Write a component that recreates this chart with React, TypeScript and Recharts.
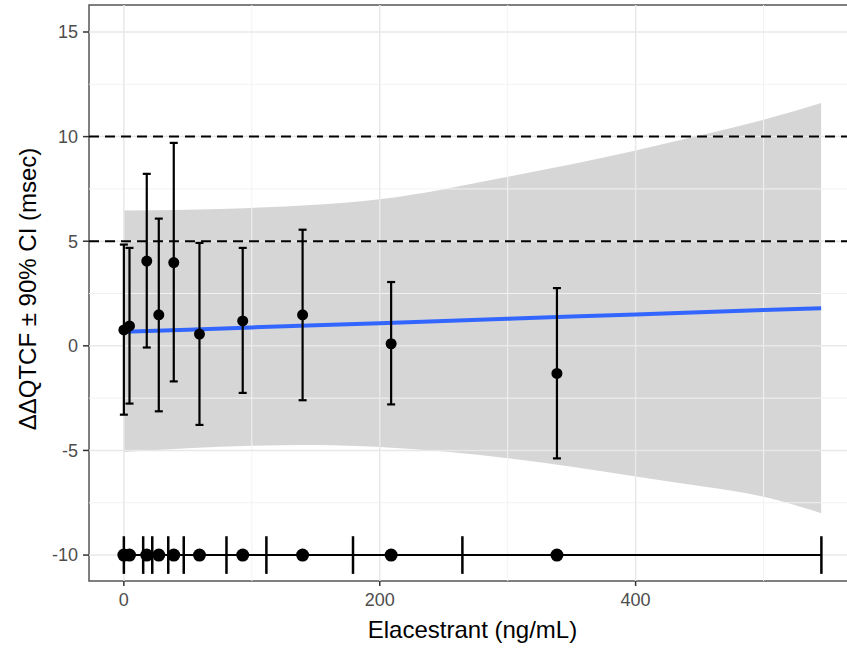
import React from 'react';
import {
  ComposedChart, Area, Line, Scatter, ErrorBar, XAxis, YAxis, ReferenceLine, ReferenceArea, Label,
} from 'recharts';

// concentration bins (ng/mL) and mean ddQTcF per bin
const concX = [0, 4.4, 17.9, 27.3, 39, 59.1, 92.9, 139.7, 208.9, 338.5];
const ddqtcf = [0.76, 0.95, 4.05, 1.48, 3.98, 0.56, 1.19, 1.48, 0.1, -1.32];
const ciLow = [-3.29, -2.76, -0.08, -3.13, -1.7, -3.78, -2.25, -2.6, -2.8, -5.38];
const ciHigh = [4.84, 4.68, 8.22, 6.08, 9.7, 4.92, 4.68, 5.55, 3.05, 2.76];

// bin edges shown on the rug row at y = -10
const binEdges = [0, 15.1, 22.2, 34.7, 46.8, 80.2, 111.4, 179.1, 264.6, 545.2];
const rugY = -10;

// linear fit and its 90% band
const fitX = [0, 50, 100, 150, 200, 250, 300, 350, 400, 450, 500, 545];
const fitY = [0.67, 0.77, 0.88, 0.98, 1.08, 1.19, 1.29, 1.4, 1.5, 1.6, 1.71, 1.8];
const bandLow = [-5.07, -4.9, -4.78, -4.74, -4.84, -5.05, -5.37, -5.78, -6.25, -6.7, -7.21, -8.0];
const bandHigh = [6.47, 6.5, 6.59, 6.74, 7.0, 7.48, 8.08, 8.68, 9.34, 10.05, 10.81, 11.61];

const thresholds = [5, 10];
const xTicks = [0, 200, 400];
const xMinor = [100, 300, 500];
const yTicks = [-10, -5, 0, 5, 10, 15];
const yMinor = [-7.5, -2.5, 2.5, 7.5, 12.5];

const X_DOMAIN = [-27.25, 572.25];
const Y_DOMAIN = [-11.24, 16.29];
const FONT = '"Liberation Sans", Arial, sans-serif';

const pointData = concX.map((x, i) => ({
  x,
  y: ddqtcf[i],
  err: [ddqtcf[i] - ciLow[i], ciHigh[i] - ddqtcf[i]],
}));
const rugData = concX.map((x) => ({ x, y: rugY }));
const bandData = fitX.map((x, i) => ({ x, band: [bandLow[i], bandHigh[i]], fit: fitY[i] }));

const Dot = (r: number) => (props: any) => (
  <circle cx={props.cx} cy={props.cy} r={r} fill="#000" />
);

const App: React.FC = () => {
  return (
    <div style={{ position: 'absolute', left: 0, top: 0, width: 847, height: 650, overflow: 'hidden', background: '#fff' }}>
      <ComposedChart width={870} height={650} margin={{ top: 5, right: 14, left: 0, bottom: 0 }}>
        <XAxis
          type="number"
          dataKey="x"
          domain={X_DOMAIN}
          ticks={xTicks}
          allowDataOverflow
          axisLine={false}
          tickSize={5}
          tickMargin={7}
          height={69}
          tickLine={{ stroke: '#333', strokeWidth: 1.5 }}
          tick={{ fill: '#4d4d4d', fontSize: 18, fontFamily: FONT }}
        >
          <Label
            content={({ viewBox }: any) => (
              <text
                x={viewBox.x + viewBox.width / 2}
                y={638}
                textAnchor="middle"
                fontSize={24}
                fontFamily={FONT}
                fill="#000"
              >
                Elacestrant (ng/mL)
              </text>
            )}
          />
        </XAxis>
        <YAxis
          type="number"
          dataKey="y"
          domain={Y_DOMAIN}
          ticks={yTicks}
          allowDataOverflow
          axisLine={false}
          width={89}
          tickSize={6}
          tickMargin={5}
          tickLine={{ stroke: '#333', strokeWidth: 1.5 }}
          tick={{ fill: '#4d4d4d', fontSize: 18, fontFamily: FONT }}
        >
          <Label
            content={({ viewBox }: any) => {
              const cy = viewBox.y + viewBox.height / 2 - 4;
              return (
                <text
                  x={28}
                  y={cy}
                  dy="0.35em"
                  textAnchor="middle"
                  transform={`rotate(-90, 28, ${cy})`}
                  fontSize={24}
                  fontFamily={FONT}
                  fill="#000"
                >
                  ΔΔQTCF ± 90% CI (msec)
                </text>
              );
            }}
          />
        </YAxis>

        {xMinor.map((v) => (
          <ReferenceLine key={`xm${v}`} x={v} stroke="#f2f2f2" strokeWidth={1} />
        ))}
        {yMinor.map((v) => (
          <ReferenceLine key={`ym${v}`} y={v} stroke="#f2f2f2" strokeWidth={1} />
        ))}
        {xTicks.map((v) => (
          <ReferenceLine key={`xg${v}`} x={v} stroke="#e8e8e8" strokeWidth={1.5} />
        ))}
        {yTicks.map((v) => (
          <ReferenceLine key={`yg${v}`} y={v} stroke="#e8e8e8" strokeWidth={1.5} />
        ))}

        <Area
          data={bandData}
          dataKey="band"
          type="natural"
          fill="#999999"
          fillOpacity={0.4}
          stroke="none"
          isAnimationActive={false}
          activeDot={false}
        />

        {thresholds.map((v) => (
          <ReferenceLine key={`th${v}`} y={v} stroke="#000" strokeWidth={2} strokeDasharray="10 6" />
        ))}

        <Line
          data={bandData}
          dataKey="fit"
          type="linear"
          stroke="#3366ff"
          strokeWidth={4}
          dot={false}
          activeDot={false}
          isAnimationActive={false}
        />

        <ReferenceLine
          segment={[{ x: binEdges[0], y: rugY }, { x: binEdges[binEdges.length - 1], y: rugY }]}
          stroke="#000"
          strokeWidth={2}
        />
        {binEdges.map((b) => (
          <ReferenceLine
            key={`be${b}`}
            segment={[{ x: b, y: rugY - 0.9 }, { x: b, y: rugY + 0.9 }]}
            stroke="#000"
            strokeWidth={2.5}
          />
        ))}

        <Scatter data={pointData} dataKey="y" shape={Dot(5.5)} isAnimationActive={false}>
          <ErrorBar dataKey="err" direction="y" width={4} stroke="#000" strokeWidth={2.2} />
        </Scatter>
        <Scatter data={rugData} dataKey="y" shape={Dot(6.5)} isAnimationActive={false} />

        <ReferenceArea
          x1={X_DOMAIN[0]}
          x2={X_DOMAIN[1]}
          y1={Y_DOMAIN[0]}
          y2={Y_DOMAIN[1]}
          fill="none"
          stroke="#555"
          strokeWidth={1.5}
          ifOverflow="visible"
        />
      </ComposedChart>
    </div>
  );
};

export default App;
